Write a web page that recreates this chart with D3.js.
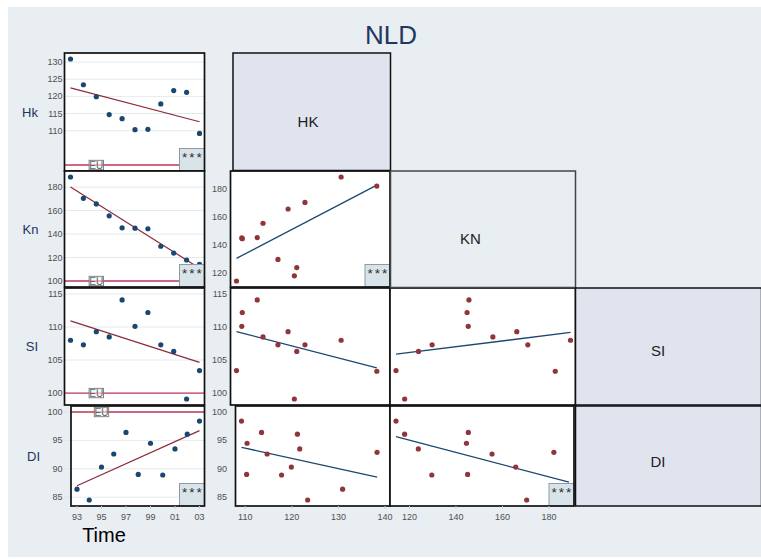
<!DOCTYPE html>
<html>
<head>
<meta charset="utf-8">
<script src="https://cdn.jsdelivr.net/npm/d3@7"></script>
<style>
body { margin: 0; background: #fff; }
svg { display: block; font-family: Arial, "Liberation Sans", sans-serif; }
</style>
</head>
<body>
<svg width="761" height="559"></svg>
<script>
// NLD, index values (EU = 100)
var years = [1992, 1993, 1994, 1995, 1996, 1997, 1998, 1999, 2000, 2001, 2002, 2003];
var hk = [138.3, 130.9, 123.4, 119.9, 114.7, 113.5, 110.3, 110.4, 117.8, 121.7, 121.2, 109.2];
var kn = [182.1, 188.6, 170.4, 165.7, 155.5, 145.3, 145.0, 144.5, 129.6, 123.8, 117.9, 114.2];
var si = [103.3, 108.0, 107.3, 109.3, 108.5, 114.1, 110.1, 112.2, 107.3, 106.3, 99.1, 103.4];
var di = [92.9, 86.4, 84.5, 90.3, 92.6, 96.4, 89.0, 94.5, 88.9, 93.5, 96.1, 98.4];

var timeStart = 1993;
var euLevel = 100, euYear = 1995;

var yearTicks = [1993, 1995, 1997, 1999, 2001, 2003];
var hkTimeTicks = [110, 115, 120, 125, 130];
var knTimeTicks = [100, 120, 140, 160, 180];
var knTicks = [120, 140, 160, 180];
var siTicks = [100, 105, 110, 115];
var diTicks = [85, 90, 95, 100];
var hkAxisTicks = [110, 120, 130, 140];
var knAxisTicks = [120, 140, 160, 180];

var svg = d3.select('svg');
var PAD = 6;
var NAVY = '#1a476f', MAROON = '#90353b', EU_RED = '#c0395a';

svg.append('rect').attr('x', 8).attr('y', 7).attr('width', 753).attr('height', 550)
    .attr('fill', '#e8eef2');

svg.append('text').attr('x', 391).attr('y', 44).attr('text-anchor', 'middle')
    .attr('font-size', 26).attr('fill', '#23375f').text('NLD');

function ols(xs, ys) {
    var mx = d3.mean(xs), my = d3.mean(ys);
    var sxy = d3.sum(xs, function (x, i) { return (x - mx) * (ys[i] - my); });
    var sxx = d3.sum(xs, function (x) { return (x - mx) * (x - mx); });
    var b = sxy / sxx;
    return function (x) { return my + b * (x - mx); };
}

function domainOf(vals, ticks, extra) {
    return d3.extent(vals.concat(ticks || [], extra || []));
}

function stars(g, x1, y1) {
    g.append('rect').attr('x', x1 - 25).attr('y', y1 - 22.5).attr('width', 25).attr('height', 22.5)
        .attr('fill', '#d9e4ea').attr('stroke', '#8d9ba5').attr('stroke-width', 1);
    g.append('text').attr('x', x1 - 11.5).attr('y', y1 - 9.5).attr('text-anchor', 'middle')
        .attr('font-size', 13.5).attr('letter-spacing', 2).attr('fill', '#2a2a2a').text('***');
}

function yLabels(g, y, ticks, xr) {
    g.selectAll('text.yl').data(ticks).enter().append('text')
        .attr('class', 'yl')
        .attr('x', xr).attr('y', function (d) { return y(d) + 3; })
        .attr('text-anchor', 'end').attr('font-size', 9).attr('fill', '#505050')
        .text(function (d) { return d; });
}

function xLabels(g, x, ticks, fmt) {
    g.selectAll('text.xl').data(ticks).enter().append('text')
        .attr('class', 'xl')
        .attr('x', function (d) { return x(d); }).attr('y', 519.5)
        .attr('text-anchor', 'middle').attr('font-size', 9).attr('fill', '#505050')
        .text(fmt);
    g.selectAll('line.xt').data(ticks).enter().append('line')
        .attr('class', 'xt')
        .attr('x1', function (d) { return x(d); }).attr('x2', function (d) { return x(d); })
        .attr('y1', 506).attr('y2', 509).attr('stroke', '#c4cdd3');
}

// time panels, column 1
var timeRows = [
    { name: 'Hk', vals: hk, ticks: hkTimeTicks, x0: 64.5, y0: 53, y1: 171, star: true, lx: 30 },
    { name: 'Kn', vals: kn, ticks: knTimeTicks, x0: 64.5, y0: 171, y1: 287, star: true, lx: 30.5 },
    { name: 'SI', vals: si, ticks: siTicks, x0: 64.5, y0: 288, y1: 405, star: false, lx: 32 },
    { name: 'DI', vals: di, ticks: diTicks, x0: 71, y0: 406, y1: 506, star: true, lx: 33.5 }
];

timeRows.forEach(function (r, ri) {
    var x1 = 204.5;
    var ty = years.filter(function (y) { return y >= timeStart; });
    var tv = r.vals.filter(function (v, i) { return years[i] >= timeStart; });
    var x = d3.scaleLinear().domain(d3.extent(ty)).range([r.x0 + PAD, x1 - 5]);
    var y = d3.scaleLinear().domain(domainOf(tv, r.ticks, [euLevel])).range([r.y1 - PAD, r.y0 + PAD]);
    var g = svg.append('g');

    g.append('rect').attr('x', r.x0).attr('y', r.y0).attr('width', x1 - r.x0).attr('height', r.y1 - r.y0)
        .attr('fill', '#fff');
    g.selectAll('line.grid').data(r.ticks).enter().append('line')
        .attr('x1', r.x0).attr('x2', x1)
        .attr('y1', function (d) { return y(d); }).attr('y2', function (d) { return y(d); })
        .attr('stroke', '#e3eaee').attr('stroke-width', 1);
    g.selectAll('line.tk').data(r.ticks).enter().append('line')
        .attr('x1', 64).attr('x2', r.x0)
        .attr('y1', function (d) { return y(d); }).attr('y2', function (d) { return y(d); })
        .attr('stroke', '#dde5ea');

    g.append('line').attr('x1', r.x0).attr('x2', x1)
        .attr('y1', y(euLevel)).attr('y2', y(euLevel))
        .attr('stroke', EU_RED).attr('stroke-width', 1.3);
    g.append('rect').attr('x', x(euYear) - 7.2).attr('y', y(euLevel) - 4.7)
        .attr('width', 14.4).attr('height', 9.4)
        .attr('fill', '#f4f4f4').attr('fill-opacity', 0.6).attr('stroke', '#777').attr('stroke-width', 0.9);
    g.append('text').attr('x', x(euYear)).attr('y', y(euLevel) + 3.6).attr('text-anchor', 'middle')
        .attr('font-size', 10).attr('fill', '#666').text('EU');

    var f = ols(ty, tv);
    g.append('line')
        .attr('x1', x(ty[0])).attr('y1', y(f(ty[0])))
        .attr('x2', x(ty[ty.length - 1])).attr('y2', y(f(ty[ty.length - 1])))
        .attr('stroke', '#8e2a3b').attr('stroke-width', 1.2);

    g.selectAll('circle').data(ty).enter().append('circle')
        .attr('cx', function (d) { return x(d); })
        .attr('cy', function (d, i) { return y(tv[i]); })
        .attr('r', 2.6).attr('fill', NAVY);

    if (r.star) stars(g, x1, r.y1);
    g.append('rect').attr('x', r.x0).attr('y', r.y0).attr('width', x1 - r.x0).attr('height', r.y1 - r.y0)
        .attr('fill', 'none').attr('stroke', '#111').attr('stroke-width', 1.7);

    yLabels(g, y, r.ticks, 62.5);
    g.append('text').attr('x', r.lx).attr('y', (r.y0 + r.y1) / 2 + 4.7)
        .attr('text-anchor', 'middle').attr('font-size', 13).attr('fill', '#1e3560').text(r.name);

    if (ri === 3) {
        xLabels(g, x, yearTicks, function (d) { return d3.format('02d')(d % 100); });
    }
});

svg.append('text').attr('x', 104).attr('y', 542).attr('text-anchor', 'middle')
    .attr('font-size', 20).attr('fill', '#000').text('Time');

// scatter panels
var scatters = [
    { xv: hk, yv: kn, xt: hkAxisTicks, yt: knTicks, x0: 230.5, x1: 390, y0: 171, y1: 287, star: true, ylab: true },
    { xv: hk, yv: si, xt: hkAxisTicks, yt: siTicks, x0: 230.5, x1: 390, y0: 288, y1: 405, star: false, ylab: true },
    { xv: hk, yv: di, xt: hkAxisTicks, yt: diTicks, x0: 235.5, x1: 390, y0: 406, y1: 506, star: false, ylab: true, xlab: true },
    { xv: kn, yv: si, xt: knAxisTicks, yt: siTicks, x0: 390, x1: 575.5, y0: 288, y1: 405, star: false },
    { xv: kn, yv: di, xt: knAxisTicks, yt: diTicks, x0: 390, x1: 574, y0: 406, y1: 506, star: true, xlab: true }
];

scatters.forEach(function (p) {
    var x = d3.scaleLinear().domain(domainOf(p.xv, p.xt)).range([p.x0 + PAD, p.x1 - 5]);
    var y = d3.scaleLinear().domain(domainOf(p.yv, p.yt)).range([p.y1 - PAD, p.y0 + PAD]);
    var g = svg.append('g');

    g.append('rect').attr('x', p.x0).attr('y', p.y0).attr('width', p.x1 - p.x0).attr('height', p.y1 - p.y0)
        .attr('fill', '#fff');

    var f = ols(p.xv, p.yv);
    var ex = d3.extent(p.xv);
    g.append('line')
        .attr('x1', x(ex[0])).attr('y1', y(f(ex[0])))
        .attr('x2', x(ex[1])).attr('y2', y(f(ex[1])))
        .attr('stroke', NAVY).attr('stroke-width', 1.3);

    g.selectAll('circle').data(p.xv).enter().append('circle')
        .attr('cx', function (d) { return x(d); })
        .attr('cy', function (d, i) { return y(p.yv[i]); })
        .attr('r', 2.6).attr('fill', MAROON);

    if (p.star) stars(g, p.x1, p.y1);
    g.append('rect').attr('x', p.x0).attr('y', p.y0).attr('width', p.x1 - p.x0).attr('height', p.y1 - p.y0)
        .attr('fill', 'none').attr('stroke', '#111').attr('stroke-width', 1.7);

    if (p.ylab) yLabels(g, y, p.yt, 227);
    if (p.xlab) xLabels(g, x, p.xt, function (d) { return d; });
});

// diagonal boxes
var diag = [
    { name: 'HK', x: 233, y: 53, w: 157.5, h: 117.5, fill: '#e0e4ee', stroke: '#111', lx: 308, ly: 126.5 },
    { name: 'KN', x: 390.5, y: 171, w: 185, h: 116.5, fill: '#e8eef2', stroke: '#444', lx: 470.5, ly: 243.5 },
    { name: 'SI', x: 575.5, y: 288, w: 186, h: 117, fill: '#e0e4ee', stroke: '#111', lx: 658, ly: 355.5 },
    { name: 'DI', x: 575.5, y: 406, w: 186, h: 100, fill: '#e0e4ee', stroke: '#111', lx: 658, ly: 467 }
];

diag.forEach(function (d) {
    svg.append('rect').attr('x', d.x).attr('y', d.y).attr('width', d.w).attr('height', d.h)
        .attr('fill', d.fill).attr('stroke', d.stroke).attr('stroke-width', 1.5);
    svg.append('text').attr('x', d.lx).attr('y', d.ly).attr('text-anchor', 'middle')
        .attr('font-size', 15).attr('fill', '#222').text(d.name);
});
</script>
</body>
</html>
